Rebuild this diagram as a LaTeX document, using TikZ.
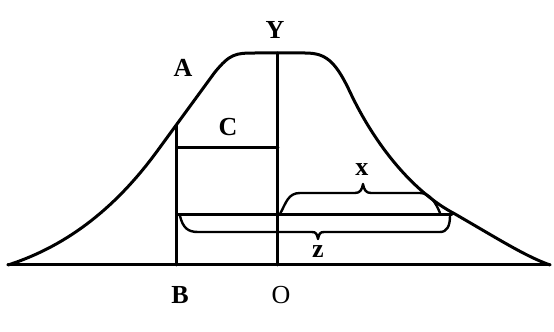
\documentclass[tikz,border=0pt]{standalone}
\usepackage{fontspec}
\setmainfont{Liberation Serif}
\begin{document}
\begin{tikzpicture}[x=0.5pt,y=-0.5pt,
  thick line/.style={line width=1.5pt,line cap=round,line join=round},
  brace line/.style={line width=1.2pt,line cap=round,line join=round},
  lbl/.style={font=\fontsize{13}{15}\selectfont\bfseries,inner sep=0pt}]
\useasboundingbox (0,0) rectangle (554,332);
% key points
\coordinate (L) at (8,265);
\coordinate (R) at (550,265);
\coordinate (Apt) at (177,125);
\coordinate (Bpt) at (177,265);
\coordinate (Top) at (278,53);
\coordinate (Opt) at (278,265);
\coordinate (Cl) at (177,148);
\coordinate (Cr) at (278,148);
\coordinate (Hl) at (177,215);
\coordinate (Hr) at (452,215);
% curve
\draw[thick line] (L) .. controls (70,245) and (118,205) .. (158,150)
  -- (215,72) .. controls (230,54) and (235,53) .. (255,53)
  -- (305,53) .. controls (325,53) and (335,60) .. (350,92)
  .. controls (375,145) and (413,192) .. (455,214)
  .. controls (500,240) and (525,256) .. (R);
% baseline and verticals
\draw[thick line] (L) -- (R);
\draw[thick line] (Apt) -- (Bpt);
\draw[thick line] (Top) -- (Opt);
\draw[thick line] (Cl) -- (Cr);
\draw[thick line] (Hl) -- (Hr);
% brace x
\draw[brace line] (280,214) .. controls (286,203) and (288,193) .. (300,193)
  -- (355,193) .. controls (360,193) and (362,190) .. (363,184)
  .. controls (364,190) and (366,193) .. (371,193) -- (420,193)
  .. controls (430,193) and (436,203) .. (440,213);
% brace z
\draw[brace line] (180,216) .. controls (183,228) and (188,232) .. (198,232)
  -- (312,232) .. controls (316,232) and (317,234) .. (318,239)
  .. controls (319,234) and (320,232) .. (324,232) -- (440,232)
  .. controls (447,232) and (450,226) .. (450,216);
% labels
\node[lbl] (Y) at (275,30) {Y};
\node[lbl] (A) at (183,68) {A};
\node[lbl] (C) at (228,127) {C};
\node[lbl] (B) at (180,295) {B};
\node[lbl,font=\fontsize{13}{15}\selectfont] (O) at (281,295) {O};
\node[lbl] (x) at (362,170) {x};
\node[lbl] (z) at (318,252) {z};
\end{tikzpicture}
\end{document}
